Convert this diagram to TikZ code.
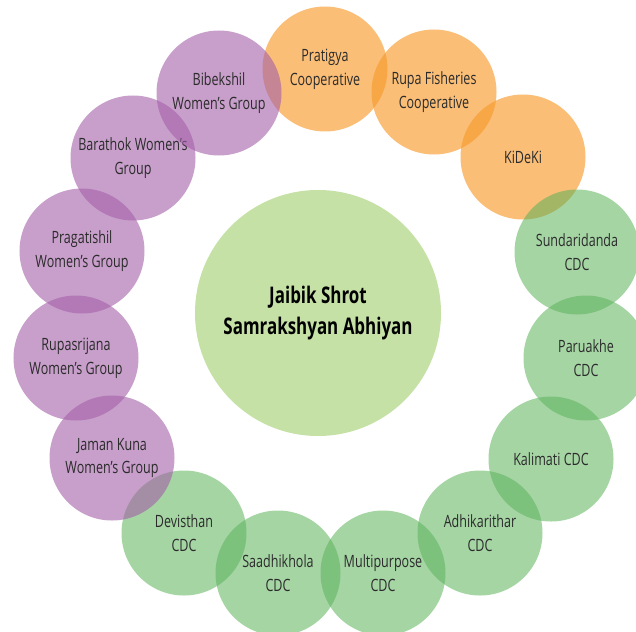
\documentclass[tikz,border=0pt]{standalone}
\usepackage{fontspec}
\setmainfont{Open Sans}[FakeStretch=0.74]
\usepackage{xcolor}
\usepackage{tikz}
\definecolor{jsorange}{HTML}{F79B2E}
\definecolor{jspurple}{HTML}{A35FA8}
\definecolor{jsgreen}{HTML}{5CB25A}
\definecolor{jslight}{HTML}{C5E1A5}
\definecolor{jstext}{HTML}{2B2B2B}

\begin{document}
\begin{tikzpicture}[
  x=1bp, y=-1bp,
  hub/.style={circle, fill=jslight, minimum size=246bp, inner sep=0pt, align=center, text=black, font=\fontsize{23}{32}\selectfont\bfseries},
  coop/.style={circle, fill=jsorange, fill opacity=0.65, text opacity=1, minimum size=125bp, inner sep=0pt, align=center, text=jstext, font=\fontsize{17}{24}\selectfont},
  women/.style={coop, fill=jspurple, fill opacity=0.6},
  cdc/.style={coop, fill=jsgreen, fill opacity=0.55}
]
\useasboundingbox (0,0) rectangle (636,632);
\node[hub] (abhiyan) at (318,313) {Jaibik Shrot\\Samrakshyan Abhiyan};
\node[coop] (pratigya) at (325,69) {Pratigya\\Cooperative};
\node[coop] (rupa) at (434,92) {Rupa Fisheries\\Cooperative};
\node[coop] (kideki) at (523,157) {KiDeKi};
\node[cdc] (sundaridanda) at (577,252) {Sundaridanda\\CDC};
\node[cdc] (paruakhe) at (586,358) {Paruakhe\\CDC};
\node[cdc] (kalimati) at (551,459) {Kalimati CDC};
\node[cdc] (adhikarithar) at (480,533) {Adhikarithar\\CDC};
\node[cdc] (multipurpose) at (383,573) {Multipurpose\\CDC};
\node[cdc] (saadhikhola) at (278,573) {Saadhikhola\\CDC};
\node[cdc] (devisthan) at (184,533) {Devisthan\\CDC};
\node[women] (jamankuna) at (112,458) {Jaman Kuna\\Women’s Group};
\node[women] (rupasrijana) at (76,358) {Rupasrijana\\Women’s Group};
\node[women] (pragatishil) at (82,251) {Pragatishil\\Women’s Group};
\node[women] (barathok) at (133,158) {Barathok Women’s\\Group};
\node[women] (bibekshil) at (219,93) {Bibekshil\\Women’s Group};
\end{tikzpicture}
\end{document}
